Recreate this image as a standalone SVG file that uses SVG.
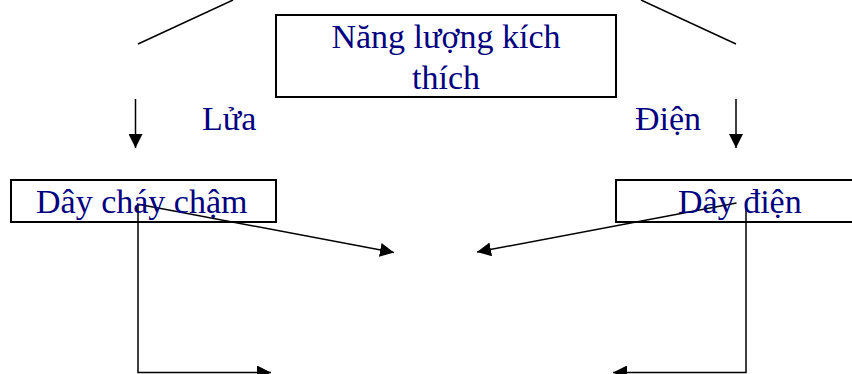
<svg xmlns="http://www.w3.org/2000/svg" width="852" height="374" viewBox="0 0 852 374">
<style>
.box{fill:none;stroke:#000;stroke-width:2}
.t{font-family:"Liberation Serif","Times New Roman",serif;font-size:34px;fill:#000080}
.c{fill:none;stroke:#000;stroke-width:1.5}
</style>
<defs>
<marker id="ah" markerUnits="userSpaceOnUse" markerWidth="14" markerHeight="14" viewBox="0 0 14 14" refX="14" refY="7" orient="auto">
<path d="M0,0 L14,7 L0,14 Z" fill="#000"/>
</marker>
</defs>
<rect width="852" height="374" fill="#fff"/>
<g id="connectors">
<line class="c" x1="138" y1="44" x2="233" y2="0"/>
<line class="c" x1="641" y1="0" x2="736" y2="44"/>
<line class="c" x1="135.5" y1="99" x2="135.5" y2="148" marker-end="url(#ah)"/>
<line class="c" x1="736" y1="99" x2="736" y2="148" marker-end="url(#ah)"/>
<line class="c" x1="137" y1="204" x2="394" y2="252.5" marker-end="url(#ah)"/>
<line class="c" x1="736.5" y1="203" x2="477" y2="252" marker-end="url(#ah)"/>
<polyline class="c" points="138,204 138,372.5 271,372.5" marker-end="url(#ah)"/>
<polyline class="c" points="746,203 746,372.5 613,372.5" marker-end="url(#ah)"/>
</g>
<g id="node-nangluong">
<rect class="box" x="276" y="15" width="340" height="82"/>
<text class="t" x="446" y="48" text-anchor="middle">Năng lượng kích</text>
<text class="t" x="446" y="89" text-anchor="middle">thích</text>
</g>
<g id="label-lua"><text class="t" x="202" y="130">Lửa</text></g>
<g id="label-dien"><text class="t" x="635" y="130">Điện</text></g>
<g id="node-daychaycham">
<rect class="box" x="11" y="180" width="265" height="42"/>
<text class="t" x="36" y="213">Dây cháy chậm</text>
</g>
<g id="node-daydien">
<rect class="box" x="616" y="180" width="250" height="42"/>
<text class="t" x="678" y="213">Dây điện</text>
</g>
</svg>
